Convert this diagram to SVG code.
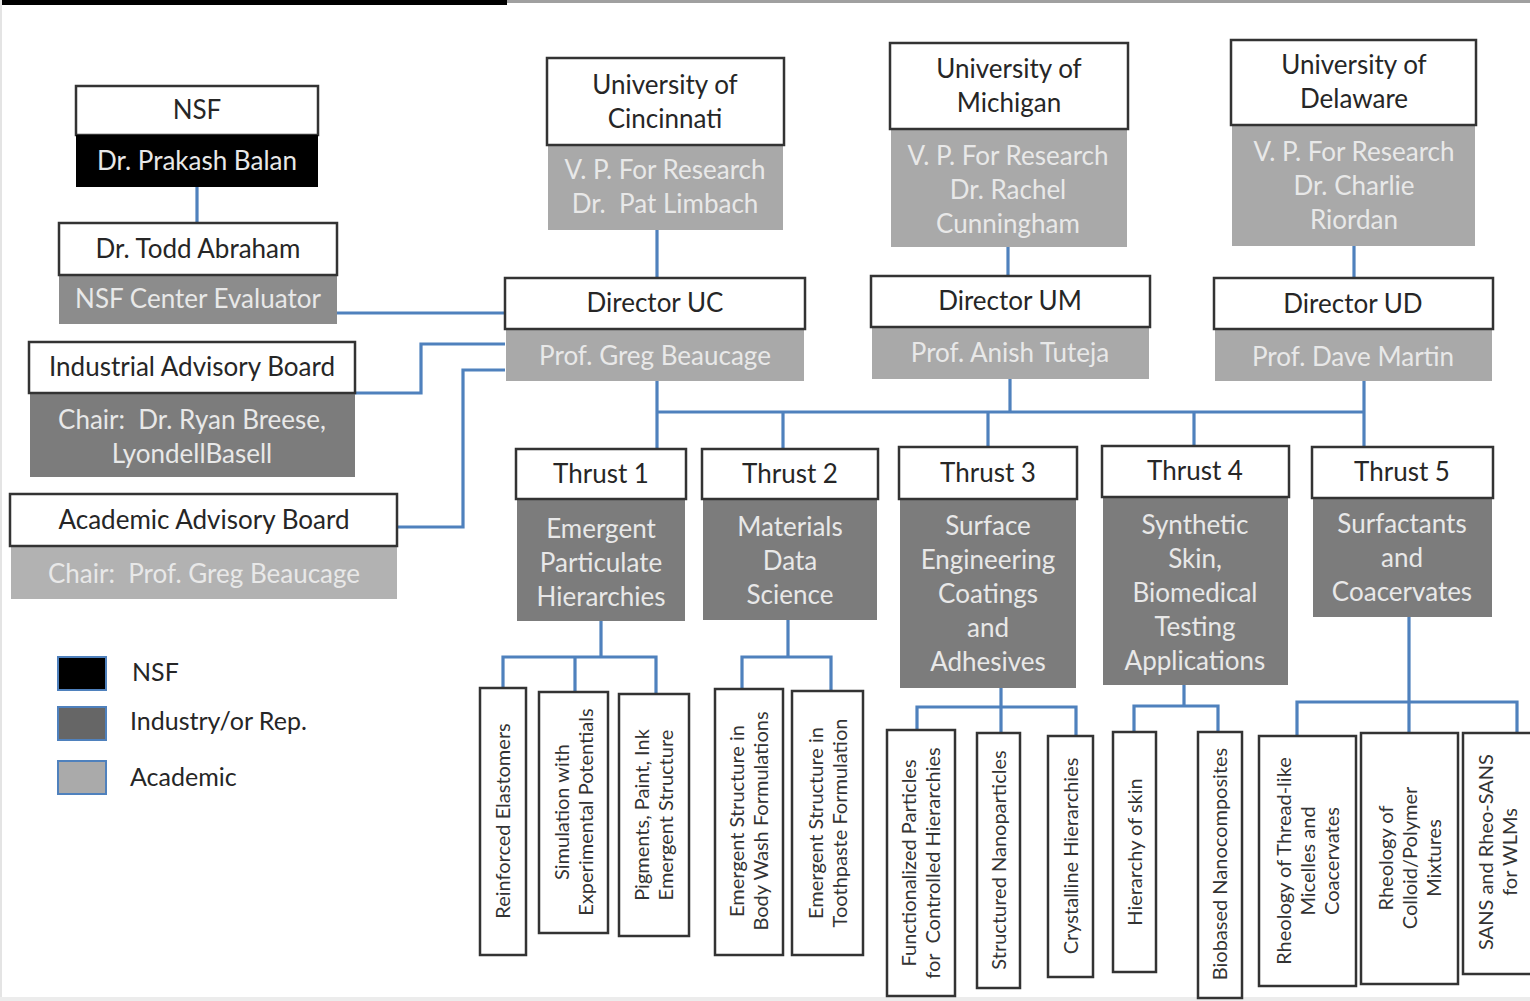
<svg xmlns="http://www.w3.org/2000/svg" width="1530" height="1001" viewBox="0 0 1530 1001">
<style>
.w{fill:#fff;stroke:#333;stroke-width:2.5}
.dk{fill:#7c7c7c}
.md{fill:#8c8c8c}
.lt{fill:#a9a9a9}
.lt2{fill:#b2b2b2}
.bk{fill:#000}
text{font-family:Lato,"Liberation Sans",sans-serif;text-anchor:middle}
.t{font-size:26px;fill:#262626}
.g{font-size:26px;fill:#e8e8e8}
.lf{font-size:20px;fill:#333}
.lg{font-size:25px;fill:#262626;text-anchor:start}
.conn{stroke:#4f81bd;stroke-width:3.2;fill:none}
.leaf{fill:#fff;stroke:#333;stroke-width:2.5}
</style>
<rect x="0" y="0" width="1530" height="1001" fill="#fff"/>
<rect x="0" y="0" width="507" height="5" fill="#000"/>
<rect x="507" y="0" width="1023" height="3" fill="#a0a0a0"/>
<rect x="0" y="0" width="2" height="1001" fill="#e4e4e4"/>
<rect x="0" y="997" width="1530" height="4" fill="#ececec"/>

<g id="connectors" class="conn">
<path d="M197 187V223"/>
<path d="M337 313H505"/>
<path d="M355 393H421V344H505"/>
<path d="M397 527H463V370H505"/>
<path d="M657 230V278"/>
<path d="M1008 247V276"/>
<path d="M1354 246V278"/>
<path d="M657 381V449"/>
<path d="M657 412H1365"/>
<path d="M1010 379V412"/>
<path d="M1364 381V447"/>
<path d="M783 412V449"/>
<path d="M988 412V447"/>
<path d="M1194 412V446"/>
<path d="M601 621V657M503 688V657H656V694M575 657V692"/>
<path d="M788 620V657M742 689V657H831V691"/>
<path d="M1001 688V733M917 730V707H1076V736"/>
<path d="M1184 685V706M1134 732V706H1218V732"/>
<path d="M1409 617V733M1297 736V702H1517V733"/>
</g>

<g id="nsf">
<rect class="w" x="76" y="86" width="242" height="49"/>
<rect class="bk" x="76" y="135" width="242" height="52"/>
<text class="t" x="197" y="119">NSF</text>
<text class="g" x="197" y="170">Dr. Prakash Balan</text>
</g>
<g id="todd">
<rect class="md" x="59" y="275" width="278" height="49"/>
<rect class="w" x="59" y="223" width="278" height="52"/>
<text class="t" x="198" y="258">Dr. Todd Abraham</text>
<text class="g" x="198" y="308">NSF Center Evaluator</text>
</g>
<g id="iab">
<rect class="dk" x="30" y="393" width="325" height="84"/>
<rect class="w" x="29" y="342" width="326" height="51"/>
<text class="t" x="192" y="376">Industrial Advisory Board</text>
<text class="g" x="192" y="429" xml:space="preserve">Chair:  Dr. Ryan Breese,</text>
<text class="g" x="192" y="463">LyondellBasell</text>
</g>
<g id="aab">
<rect class="lt2" x="11" y="546" width="386" height="53"/>
<rect class="w" x="10" y="494" width="387" height="52"/>
<text class="t" x="204" y="529">Academic Advisory Board</text>
<text class="g" x="204" y="583" xml:space="preserve">Chair:  Prof. Greg Beaucage</text>
</g>

<g id="uc">
<rect class="lt" x="548" y="145" width="235" height="85"/>
<rect class="w" x="547" y="58" width="237" height="87"/>
<text class="t" x="665" y="94">University of</text>
<text class="t" x="665" y="128">Cincinnati</text>
<text class="g" x="665" y="179">V. P. For Research</text>
<text class="g" x="665" y="213" xml:space="preserve">Dr.  Pat Limbach</text>
</g>
<g id="um">
<rect class="lt" x="891" y="129" width="236" height="118"/>
<rect class="w" x="890" y="43" width="238" height="86"/>
<text class="t" x="1009" y="78">University of</text>
<text class="t" x="1009" y="112">Michigan</text>
<text class="g" x="1008" y="165">V. P. For Research</text>
<text class="g" x="1008" y="199">Dr. Rachel</text>
<text class="g" x="1008" y="233">Cunningham</text>
</g>
<g id="ud">
<rect class="lt" x="1232" y="125" width="243" height="121"/>
<rect class="w" x="1231" y="40" width="245" height="85"/>
<text class="t" x="1354" y="74">University of</text>
<text class="t" x="1354" y="108">Delaware</text>
<text class="g" x="1354" y="161">V. P. For Research</text>
<text class="g" x="1354" y="195">Dr. Charlie</text>
<text class="g" x="1354" y="229">Riordan</text>
</g>

<g id="dir-uc">
<rect class="lt" x="506" y="329" width="298" height="52"/>
<rect class="w" x="505" y="278" width="300" height="51"/>
<text class="t" x="655" y="312">Director UC</text>
<text class="g" x="655" y="365">Prof. Greg Beaucage</text>
</g>
<g id="dir-um">
<rect class="lt" x="872" y="327" width="277" height="52"/>
<rect class="w" x="871" y="276" width="279" height="51"/>
<text class="t" x="1010" y="310">Director UM</text>
<text class="g" x="1010" y="362">Prof. Anish Tuteja</text>
</g>
<g id="dir-ud">
<rect class="lt" x="1215" y="329" width="277" height="52"/>
<rect class="w" x="1214" y="278" width="279" height="51"/>
<text class="t" x="1353" y="313">Director UD</text>
<text class="g" x="1353" y="366">Prof. Dave Martin</text>
</g>

<g id="thrust1">
<rect class="dk" x="517" y="499" width="168" height="122"/>
<rect class="w" x="516" y="449" width="170" height="50"/>
<text class="t" x="601" y="483">Thrust 1</text>
<text class="g" x="601" y="538">Emergent</text>
<text class="g" x="601" y="572">Particulate</text>
<text class="g" x="601" y="606">Hierarchies</text>
</g>
<g id="thrust2">
<rect class="dk" x="703" y="499" width="174" height="121"/>
<rect class="w" x="702" y="449" width="176" height="50"/>
<text class="t" x="790" y="483">Thrust 2</text>
<text class="g" x="790" y="536">Materials</text>
<text class="g" x="790" y="570">Data</text>
<text class="g" x="790" y="604">Science</text>
</g>
<g id="thrust3">
<rect class="dk" x="900" y="499" width="176" height="189"/>
<rect class="w" x="899" y="447" width="178" height="52"/>
<text class="t" x="988" y="482">Thrust 3</text>
<text class="g" x="988" y="535">Surface</text>
<text class="g" x="988" y="569">Engineering</text>
<text class="g" x="988" y="603">Coatings</text>
<text class="g" x="988" y="637">and</text>
<text class="g" x="988" y="671">Adhesives</text>
</g>
<g id="thrust4">
<rect class="dk" x="1103" y="497" width="185" height="188"/>
<rect class="w" x="1102" y="446" width="187" height="51"/>
<text class="t" x="1195" y="480">Thrust 4</text>
<text class="g" x="1195" y="534">Synthetic</text>
<text class="g" x="1195" y="568">Skin,</text>
<text class="g" x="1195" y="602">Biomedical</text>
<text class="g" x="1195" y="636">Testing</text>
<text class="g" x="1195" y="670">Applications</text>
</g>
<g id="thrust5">
<rect class="dk" x="1313" y="498" width="179" height="119"/>
<rect class="w" x="1312" y="447" width="181" height="51"/>
<text class="t" x="1402" y="481">Thrust 5</text>
<text class="g" x="1402" y="533">Surfactants</text>
<text class="g" x="1402" y="567">and</text>
<text class="g" x="1402" y="601">Coacervates</text>
</g>

<g id="leaf-1a">
<rect class="leaf" x="480" y="688" width="46" height="267"/>
<text class="lf" transform="translate(503 821) rotate(-90)" y="7">Reinforced Elastomers</text>
</g>
<g id="leaf-1b">
<rect class="leaf" x="539" y="692" width="69" height="241"/>
<text class="lf" transform="translate(573.5 812) rotate(-90)"><tspan x="0" y="-5">Simulation with</tspan><tspan x="0" y="19">Experimental Potentials</tspan></text>
</g>
<g id="leaf-1c">
<rect class="leaf" x="619" y="694" width="70" height="242"/>
<text class="lf" transform="translate(654 815) rotate(-90)"><tspan x="0" y="-5">Pigments, Paint, Ink</tspan><tspan x="0" y="19">Emergent Structure</tspan></text>
</g>
<g id="leaf-2a">
<rect class="leaf" x="715" y="689" width="68" height="266"/>
<text class="lf" transform="translate(749 821) rotate(-90)"><tspan x="0" y="-5">Emergent Structure in</tspan><tspan x="0" y="19">Body Wash Formulations</tspan></text>
</g>
<g id="leaf-2b">
<rect class="leaf" x="792" y="691" width="71" height="264"/>
<text class="lf" transform="translate(827.5 823) rotate(-90)"><tspan x="0" y="-5">Emergent Structure in</tspan><tspan x="0" y="19">Toothpaste Formulation</tspan></text>
</g>
<g id="leaf-3a">
<rect class="leaf" x="887" y="730" width="68" height="266"/>
<text class="lf" transform="translate(921 863) rotate(-90)" xml:space="preserve"><tspan x="0" y="-5">Functionalized Particles</tspan><tspan x="0" y="19">for  Controlled Hierarchies</tspan></text>
</g>
<g id="leaf-3b">
<rect class="leaf" x="977" y="733" width="43" height="255"/>
<text class="lf" transform="translate(998.5 860) rotate(-90)" y="7">Structured Nanoparticles</text>
</g>
<g id="leaf-3c">
<rect class="leaf" x="1048" y="736" width="45" height="241"/>
<text class="lf" transform="translate(1070.5 856) rotate(-90)" y="7">Crystalline Hierarchies</text>
</g>
<g id="leaf-4a">
<rect class="leaf" x="1113" y="732" width="43" height="240"/>
<text class="lf" transform="translate(1134.5 852) rotate(-90)" y="7">Hierarchy of skin</text>
</g>
<g id="leaf-4b">
<rect class="leaf" x="1198" y="732" width="44" height="266"/>
<text class="lf" transform="translate(1220 864) rotate(-90)" y="7">Biobased Nanocomposites</text>
</g>
<g id="leaf-5a">
<rect class="leaf" x="1259" y="736" width="97" height="250"/>
<text class="lf" transform="translate(1307.5 861) rotate(-90)"><tspan x="0" y="-17">Rheology of Thread-like</tspan><tspan x="0" y="7">Micelles and</tspan><tspan x="0" y="31">Coacervates</tspan></text>
</g>
<g id="leaf-5b">
<rect class="leaf" x="1361" y="733" width="97" height="251"/>
<text class="lf" transform="translate(1409.5 858) rotate(-90)"><tspan x="0" y="-17">Rheology of</tspan><tspan x="0" y="7">Colloid/Polymer</tspan><tspan x="0" y="31">Mixtures</tspan></text>
</g>
<g id="leaf-5c">
<rect class="leaf" x="1463" y="733" width="70" height="241"/>
<text class="lf" transform="translate(1497.5 852) rotate(-90)"><tspan x="0" y="-5">SANS and Rheo-SANS</tspan><tspan x="0" y="19">for WLMs</tspan></text>
</g>

<g id="legend">
<rect x="58" y="657" width="48" height="33" fill="#000" stroke="#4f81bd" stroke-width="2"/>
<rect x="58" y="707" width="48" height="33" fill="#666" stroke="#4f81bd" stroke-width="2"/>
<rect x="58" y="761" width="48" height="33" fill="#aaa" stroke="#4f81bd" stroke-width="2"/>
<text class="lg" x="132" y="681">NSF</text>
<text class="lg" x="130" y="730">Industry/or Rep.</text>
<text class="lg" x="130" y="786">Academic</text>
</g>
</svg>
